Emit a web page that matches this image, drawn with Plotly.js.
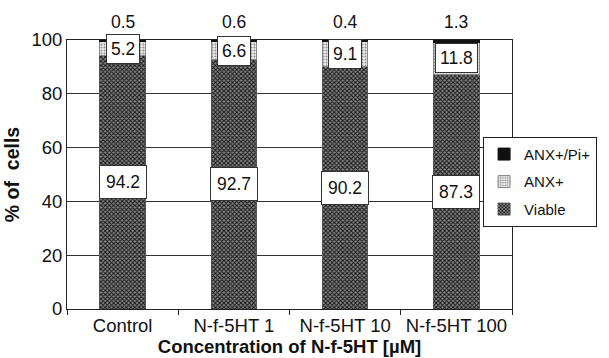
<!DOCTYPE html>
<html>
<head>
<meta charset="utf-8">
<script src="https://cdn.plot.ly/plotly-3.0.1.min.js"></script>
<style>html,body{margin:0;padding:0;background:#fff;}#chart{width:609px;height:358px;}</style>
</head>
<body>
<div id="chart"></div>
<script>
const categories = ["Control", "N-f-5HT 1", "N-f-5HT 10", "N-f-5HT 100"];
const viable = [94.2, 92.7, 90.2, 87.3];
const anx = [5.2, 6.6, 9.1, 11.8];
const anxPi = [0.5, 0.6, 0.4, 1.3];
const seriesNames = ["Viable", "ANX+", "ANX+/Pi+"];
const yTicks = [0, 20, 40, 60, 80, 100];

const FONT = "Liberation Sans, Arial, sans-serif";

const traces = [
  {
    type: "bar", name: seriesNames[0], x: categories, y: viable,
    legendgroup: "g1", legendrank: 3,
    marker: {
      color: "#5a5a5a",
      line: {color: "#555", width: 1},
      pattern: {shape: "x", size: 3, solidity: 0.55, fgcolor: "#161616", bgcolor: "#888888", fillmode: "replace"}
    },
    hoverinfo: "skip"
  },
  {
    type: "bar", name: seriesNames[1], x: categories, y: anx,
    legendgroup: "g2", legendrank: 2,
    marker: {
      color: "#d8d8d8",
      line: {color: "#888", width: 1},
      pattern: {shape: ".", size: 3, solidity: 0.35, fgcolor: "#8c8c8c", bgcolor: "#ececec", fillmode: "replace"}
    },
    hoverinfo: "skip"
  },
  {
    type: "bar", name: seriesNames[2], x: categories, y: anxPi,
    legendgroup: "g3", legendrank: 1,
    marker: {color: "#111", line: {color: "#111", width: 1}},
    hoverinfo: "skip"
  }
];

const annotations = [];
categories.forEach((c, i) => {
  annotations.push({
    x: c, y: viable[i] / 2, xref: "x", yref: "y", text: viable[i].toFixed(1),
    showarrow: false, bgcolor: "#fff", bordercolor: "#333", borderwidth: 1,
    borderpad: 3, width: 40, height: 26,
    font: {family: FONT, size: 17.5, color: "#111"}
  });
  annotations.push({
    x: c, y: viable[i] + anx[i] / 2, xref: "x", yref: "y", text: anx[i].toFixed(1),
    showarrow: false, bgcolor: "#fff", bordercolor: "#333", borderwidth: 1,
    borderpad: 4,
    font: {family: FONT, size: 17.5, color: "#111"}
  });
  annotations.push({
    x: c, y: 1.067, xref: "x", yref: "paper", yanchor: "middle", text: anxPi[i].toFixed(1),
    showarrow: false,
    font: {family: FONT, size: 17.5, color: "#111"}
  });
});

const layout = {
  width: 609, height: 358,
  margin: {l: 67, r: 65, t: 40, b: 49},
  paper_bgcolor: "#fff", plot_bgcolor: "#fff",
  barmode: "stack", bargap: 0.59,
  font: {family: FONT, size: 19, color: "#111"},
  xaxis: {
    type: "category",
    showline: true, linecolor: "#222", linewidth: 1, mirror: true,
    ticks: "outside", tickson: "boundaries", ticklen: 5, tickcolor: "#222",
    showgrid: false,
    tickfont: {family: FONT, size: 18.5, color: "#111"},
    title: {text: "<b>Concentration of N-f-5HT [µM]</b>", font: {family: FONT, size: 18.5, color: "#111"}, standoff: 0},
    fixedrange: true
  },
  yaxis: {
    range: [0, 100], tickvals: yTicks, ticktext: yTicks.map(String),
    showline: true, linecolor: "#222", linewidth: 1, mirror: true,
    showgrid: true, gridcolor: "#333", gridwidth: 1,
    ticks: "", ticklen: 0,
    tickfont: {family: FONT, size: 18.5, color: "#111"},
    title: {text: "<b>% of  cells</b>", font: {family: FONT, size: 19.5, color: "#111"}, standoff: 6},
    zeroline: false, fixedrange: true
  },
  legend: {
    x: 0.935, xanchor: "left", y: 0.64, yanchor: "top",
    bordercolor: "#222", borderwidth: 1, bgcolor: "#fff",
    traceorder: "grouped", tracegroupgap: 5,
    font: {family: FONT, size: 15, color: "#111"},
    itemwidth: 30
  },
  annotations: annotations,
  showlegend: true
};

Plotly.newPlot("chart", traces, layout, {displayModeBar: false, staticPlot: true});
</script>
</body>
</html>
